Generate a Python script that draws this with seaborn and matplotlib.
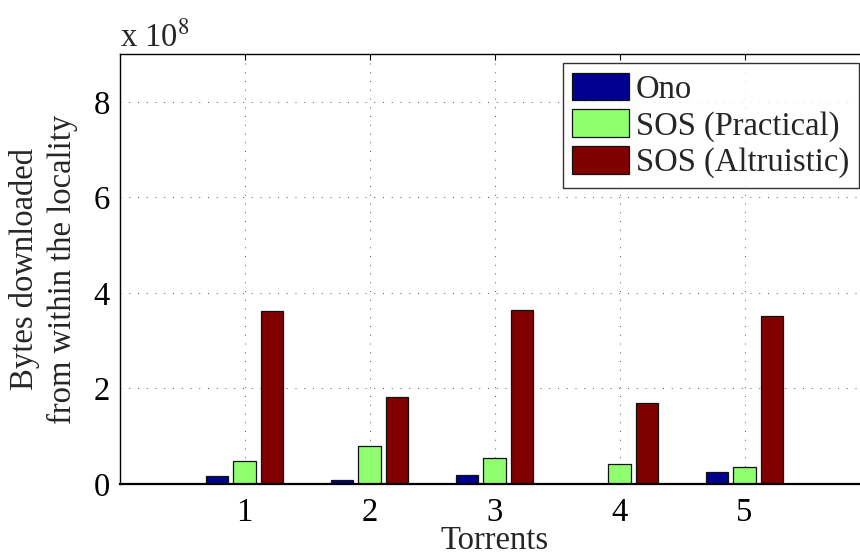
import matplotlib
matplotlib.use("Agg")
import matplotlib.pyplot as plt
from matplotlib.patches import Patch
from matplotlib.ticker import FuncFormatter
import seaborn as sns
import pandas as pd

# Bytes downloaded from within the locality, per torrent and scheme
torrents = [1, 2, 3, 4, 5]
schemes = ["Ono", "SOS (Practical)", "SOS (Altruistic)"]
ono = [0.17e8, 0.08e8, 0.18e8, 0.002e8, 0.245e8]
sos_practical = [0.48e8, 0.80e8, 0.55e8, 0.41e8, 0.35e8]
sos_altruistic = [3.62e8, 1.82e8, 3.64e8, 1.69e8, 3.52e8]
y_ticks = [0, 2e8, 4e8, 6e8, 8e8]
colors = ["#00008f", "#8fff70", "#800000"]

rows = []
for name, vals in zip(schemes, [ono, sos_practical, sos_altruistic]):
    for t, v in zip(torrents, vals):
        rows.append({"torrent": t, "bytes": v, "scheme": name})
df = pd.DataFrame(rows)

sns.set_style("white")
plt.rcParams["font.family"] = ["Liberation Serif", "DejaVu Serif"]
plt.rcParams["mathtext.fontset"] = "stix"
fs = 23.5

fig = plt.figure(figsize=(8.6, 5.56), dpi=100)
ax = fig.add_axes([119.5 / 860, 1 - 484 / 556, 750 / 860, 430 / 556])

sns.barplot(data=df, x="torrent", y="bytes", hue="scheme", hue_order=schemes,
            palette=colors, saturation=1, native_scale=True, width=0.667,
            gap=0.2, errorbar=None, edgecolor="#111111", linewidth=0.9,
            legend=False, ax=ax)

ax.set_xlim(0, 6)
ax.set_ylim(0, 9e8)
ax.set_xticks(torrents)
ax.set_xticklabels([str(t) for t in torrents])
ax.set_yticks(y_ticks)
ax.yaxis.set_major_formatter(FuncFormatter(lambda v, p: f"{v / 1e8:g}"))

ax.set_axisbelow(True)
ax.grid(True, color="0.35", linestyle=(0, (1, 8)), linewidth=0.7)

for side in ["left", "top", "right"]:
    ax.spines[side].set_color("black")
    ax.spines[side].set_linewidth(1.0)
ax.spines["bottom"].set_color("black")
ax.spines["bottom"].set_linewidth(1.6)

ax.tick_params(axis="both", direction="in", length=4, width=0.8,
               top=True, right=True, labelsize=fs, colors="black")
ax.tick_params(axis="y", pad=7)
ax.tick_params(axis="x", pad=10)

ax.set_xlabel("Torrents", fontsize=fs, va="center")
ax.xaxis.set_label_coords(0.5, (484 - 541) / 430)
ax.set_ylabel("Bytes downloaded\nfrom within the locality", fontsize=fs,
              va="center", linespacing=1.25)
ax.yaxis.set_label_coords((43.5 - 119.5) / 750, 0.5)

fig.text(120 / 860, 1 - 46 / 556, "x 10$^{8}$", fontsize=fs,
         ha="left", va="baseline")

handles = [Patch(facecolor=c, edgecolor="#111111", linewidth=0.9) for c in colors]
leg = ax.legend(handles, schemes, loc="upper right",
                bbox_to_anchor=(859 / 860, 1 - 63 / 556),
                bbox_transform=fig.transFigure, borderaxespad=0,
                fontsize=fs, frameon=True, fancybox=False,
                handlelength=1.75, handleheight=0.9, handletextpad=0.2,
                labelspacing=0.15, borderpad=0.3)
leg.get_frame().set_edgecolor("black")
leg.get_frame().set_linewidth(1.0)

fig.savefig("out.png", dpi=100)
